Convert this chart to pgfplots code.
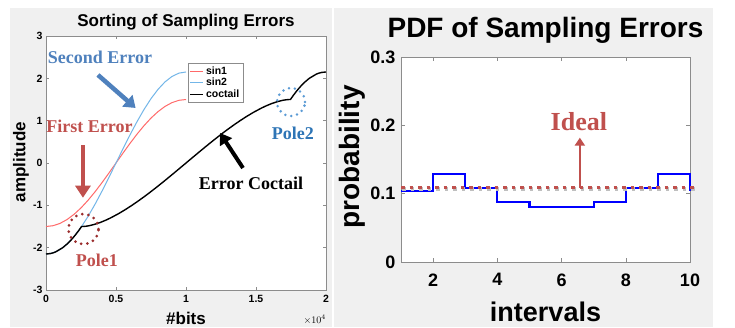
\documentclass[border=0pt]{standalone}
\usepackage{fontspec}
\setmainfont{Liberation Sans}
\newfontfamily\annfont{Liberation Serif}
\usepackage{pgfplots}
\pgfplotsset{compat=1.18}
\usetikzlibrary{arrows.meta}
\definecolor{panelgray}{HTML}{F0F0F0}
\definecolor{sinred}{RGB}{255,105,105}
\definecolor{sinblue}{RGB}{115,182,232}
\definecolor{offblue}{HTML}{4F81BD}
\definecolor{offred}{HTML}{C0504D}
\definecolor{poleblue}{HTML}{2E75B6}
\definecolor{circblue}{HTML}{5B9BD5}
\definecolor{circred}{HTML}{9B2D2D}
\definecolor{axgray}{RGB}{140,140,140}
\newcommand{\fs}[1]{\fontsize{#1}{#1}\selectfont}
\begin{document}
\begin{tikzpicture}[x=1pt,y=1pt]
\useasboundingbox (0,0) rectangle (735,327);
\fill[white] (0,0) rectangle (735,327);
\fill[panelgray] (10,0) rectangle (332,319);
\fill[panelgray] (334,0) rectangle (713,319);

% ---------------- left axis ----------------
\begin{axis}[
  at={(46pt,37pt)}, anchor=south west, scale only axis,
  width=280pt, height=254pt,
  xmin=0, xmax=2, ymin=-3, ymax=3,
  xtick={0,0.5,1,1.5,2}, ytick={-3,-2,-1,0,1,2,3},
  axis background/.style={fill=white},
  axis line style={axgray, line width=0.6pt},
  tick style={axgray, line width=0.5pt},
  major tick length=3pt, tick align=inside,
  tick label style={font=\bfseries\fs{10.5}},
  /pgf/number format/assume math mode=true,
  xticklabel style={yshift=-2pt},
  legend style={at={(0.507,0.894)}, anchor=north west, font=\bfseries\fs{10.5},
    draw=axgray, fill=white, inner sep=1.5pt, row sep=-1.5pt},
  legend cell align=left,
  legend image code/.code={\draw[#1] (0pt,0pt) -- (13pt,0pt);},
  clip=false,
]
\addplot[sinred, line width=1pt] coordinates {
(0,-1.5)(0.05,-1.4815)(0.1,-1.4266)(0.15,-1.3365)(0.2,-1.2135)(0.25,-1.0607)
(0.3,-0.8817)(0.35,-0.6810)(0.4,-0.4635)(0.45,-0.2346)(0.5,0)(0.55,0.2346)
(0.6,0.4635)(0.65,0.6810)(0.7,0.8817)(0.75,1.0607)(0.8,1.2135)(0.85,1.3365)
(0.9,1.4266)(0.95,1.4815)(1,1.5)};
\addlegendentry{sin1}
\addplot[sinblue, line width=1pt] coordinates {
(0,-2.15)(0.05,-2.1235)(0.1,-2.0448)(0.15,-1.9157)(0.2,-1.7394)(0.25,-1.5203)
(0.3,-1.2638)(0.35,-0.9761)(0.4,-0.6644)(0.45,-0.3363)(0.5,0)(0.55,0.3363)
(0.6,0.6644)(0.65,0.9761)(0.7,1.2638)(0.75,1.5203)(0.8,1.7394)(0.85,1.9157)
(0.9,2.0448)(0.95,2.1235)(1,2.15)};
\addlegendentry{sin2}
\addplot[black, line width=1.4pt] coordinates {
(0,-2.15)(0.0307,-2.14)(0.0532,-2.12)(0.0688,-2.10)(0.1197,-2.0)(0.1551,-1.9)
(0.1842,-1.8)(0.2097,-1.7)(0.2328,-1.6)(0.2542,-1.5)
(0.2661,-1.499)(0.2812,-1.495)(0.2931,-1.49)(0.3103,-1.48)(0.3468,-1.45)
(0.3912,-1.4)(0.4275,-1.35)(0.4596,-1.3)(0.5164,-1.2)(0.5670,-1.1)(0.6137,-1.0)
(0.6577,-0.9)(0.6996,-0.8)(0.7399,-0.7)(0.7790,-0.6)(0.8171,-0.5)(0.8545,-0.4)
(0.8913,-0.3)(0.9278,-0.2)(0.9639,-0.1)(1.0,0)
(1.0361,0.1)(1.0722,0.2)(1.1087,0.3)(1.1455,0.4)(1.1829,0.5)(1.2210,0.6)
(1.2601,0.7)(1.3004,0.8)(1.3423,0.9)(1.3863,1.0)(1.4330,1.1)(1.4836,1.2)
(1.5404,1.3)(1.5725,1.35)(1.6088,1.4)(1.6532,1.45)(1.6897,1.48)(1.7069,1.49)
(1.7188,1.495)(1.7339,1.499)(1.7458,1.5)
(1.7672,1.6)(1.7903,1.7)(1.8158,1.8)(1.8449,1.9)(1.8803,2.0)(1.9312,2.1)
(1.9468,2.12)(1.9693,2.14)(2.0,2.15)};
\addlegendentry{coctail}
% annotations
\node[font=\annfont\bfseries\fs{18}, text=offblue] at (axis cs:0.386,2.50) {Second Error};
\draw[offblue, line width=4.5pt, -{Triangle[length=11pt,width=15pt]}] (axis cs:0.371,2.08) -- (axis cs:0.640,1.30);
\node[font=\annfont\bfseries\fs{18}, text=offred] at (axis cs:0.311,0.874) {First Error};
\draw[offred, line width=4.5pt, -{Triangle[length=12pt,width=15pt]}] (axis cs:0.264,0.425) -- (axis cs:0.264,-0.82);
\draw[circred, line width=3pt, line cap=round, dash pattern=on 0pt off 6.2pt] (axis cs:0.268,-1.56) circle[radius=15pt];
\node[font=\annfont\bfseries\fs{18}, text=offred] at (axis cs:0.364,-2.29) {Pole1};
\draw[circblue, line width=2.8pt, line cap=round, dash pattern=on 0pt off 6pt] (axis cs:1.75,1.44) circle[radius=14pt];
\node[font=\annfont\bfseries\fs{18}, text=poleblue] at (axis cs:1.764,0.709) {Pole2};
\draw[black, line width=4pt, -{Triangle[length=11pt,width=14pt]}] (axis cs:1.407,-0.118) -- (axis cs:1.243,0.709);
\node[font=\annfont\bfseries\fs{18}, text=black] at (axis cs:1.464,-0.47) {Error Coctail};
\end{axis}

% ---------------- right axis ----------------
\begin{axis}[
  at={(401pt,65pt)}, anchor=south west, scale only axis,
  width=289pt, height=205pt,
  xmin=1, xmax=10, ymin=0, ymax=0.3,
  xtick={2,4,6,8,10}, ytick={0,0.1,0.2,0.3},
  axis background/.style={fill=white},
  axis line style={axgray, line width=0.6pt},
  tick style={axgray, line width=0.5pt},
  major tick length=4pt, tick align=inside,
  tick label style={font=\bfseries\fs{18}},
  /pgf/number format/assume math mode=true,
  xticklabel style={yshift=-8pt},
  yticklabel style={xshift=-2pt},
  clip=false,
]
\addplot[blue, line width=2.2pt, const plot] coordinates {
(1,0.104)(2,0.129)(3,0.108)(4,0.088)(5,0.081)(6,0.081)(7,0.088)(8,0.108)(9,0.129)(10,0.104)};
\addplot[black!25, line width=3.5pt, dash pattern=on 3.5pt off 5pt] coordinates {(1.04,0.1065)(10.29,0.1065)};
\addplot[offred, line width=3.5pt, dash pattern=on 3.5pt off 5pt] coordinates {(1,0.109)(10.25,0.109)};
\draw[offred, line width=2.5pt, -{Triangle[length=8pt,width=10pt]}] (axis cs:6.57,0.108) -- (axis cs:6.57,0.182);
\node[font=\annfont\bfseries\fs{26}, text=offred] at (axis cs:6.54,0.205) {Ideal};
\end{axis}

% ---------------- titles and labels ----------------
\node[anchor=base, font=\bfseries\fs{17}] at (186,300) {Sorting of Sampling Errors};
\node[anchor=base, font=\bfseries\fs{28}] at (545.5,289) {PDF of Sampling Errors};
\node[rotate=90, font=\bfseries\fs{17}] at (21,165) {amplitude};
\node[anchor=base, font=\bfseries\fs{17}] at (186,3) {\#bits};
\node[anchor=base east, font=\fs{10}, inner sep=0pt] at (326,4) {$\times10^{4}$};
\node[rotate=90, font=\bfseries\fs{28}] at (352,170) {probability};
\node[anchor=base, font=\bfseries\fs{27}] at (545.5,6) {intervals};
\end{tikzpicture}
\end{document}
